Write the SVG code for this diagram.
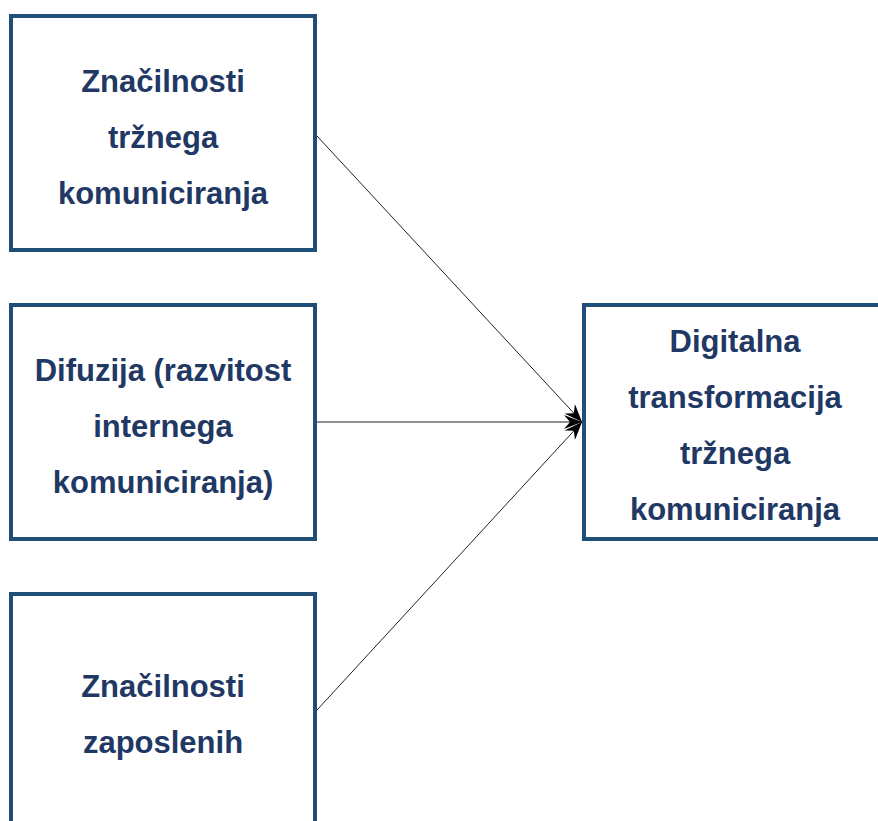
<svg xmlns="http://www.w3.org/2000/svg" width="878" height="821" viewBox="0 0 878 821">
  <style>
    .box { fill: #ffffff; stroke: #1f4e79; stroke-width: 4; }
    .label { font-family: "Liberation Sans", Arial, sans-serif; font-weight: bold; font-size: 31px; fill: #1f3864; text-anchor: middle; }
    .link { stroke: #222222; stroke-width: 1; fill: none; marker-end: url(#head); }
  </style>
  <defs>
    <marker id="head" markerUnits="userSpaceOnUse" markerWidth="18" markerHeight="14" refX="18" refY="7" orient="auto">
      <path d="M0,0 L18,7 L0,14 L6,7 Z" fill="#000000"/>
    </marker>
  </defs>
  <rect width="878" height="821" fill="#ffffff"/>

  <g id="connectors">
    <line class="link" x1="317" y1="136" x2="582" y2="422"/>
    <line class="link" x1="317" y1="422" x2="582" y2="422"/>
    <line class="link" x1="317" y1="710" x2="582" y2="422"/>
  </g>

  <g id="node-trzno">
    <rect class="box" x="11" y="16" width="304" height="234"/>
    <text class="label" x="163" y="92">Značilnosti</text>
    <text class="label" x="163" y="148">tržnega</text>
    <text class="label" x="163" y="204">komuniciranja</text>
  </g>

  <g id="node-difuzija">
    <rect class="box" x="11" y="305" width="304" height="234"/>
    <text class="label" x="163" y="381">Difuzija (razvitost</text>
    <text class="label" x="163" y="437">internega</text>
    <text class="label" x="163" y="493">komuniciranja)</text>
  </g>

  <g id="node-zaposleni">
    <rect class="box" x="11" y="594" width="304" height="234"/>
    <text class="label" x="163" y="697">Značilnosti</text>
    <text class="label" x="163" y="753">zaposlenih</text>
  </g>

  <g id="node-digitalna">
    <rect class="box" x="584" y="305" width="304" height="234"/>
    <text class="label" x="735" y="352">Digitalna</text>
    <text class="label" x="735" y="408">transformacija</text>
    <text class="label" x="735" y="464">tržnega</text>
    <text class="label" x="735" y="520">komuniciranja</text>
  </g>
</svg>
